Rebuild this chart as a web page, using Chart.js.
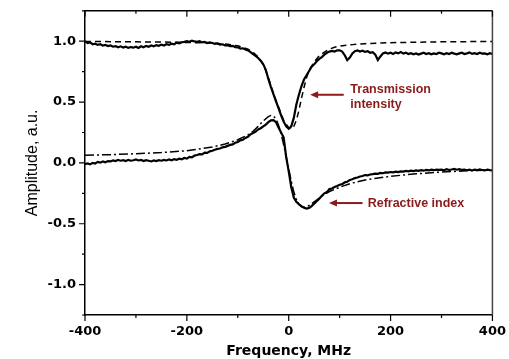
<!DOCTYPE html>
<html>
<head>
<meta charset="utf-8">
<script src="https://cdn.jsdelivr.net/npm/chart.js@4.4.1/dist/chart.umd.min.js"></script>
<style>
  html, body { margin: 0; padding: 0; background: #fff; }
</style>
</head>
<body>
<canvas id="chart" width="509" height="359"></canvas>
<script>
// measured traces, sampled every 5 MHz from -400 to 400
const measFreq = Array.from({ length: 161 }, (_, i) => -400 + 5 * i);

const transMeas = [
  1.00, 0.985, 0.99, 0.975, 0.98, 0.97, 0.975, 0.965, 0.97, 0.96,
  0.965, 0.955, 0.96, 0.95, 0.958, 0.948, 0.955, 0.945, 0.952, 0.947,
  0.955, 0.945, 0.958, 0.95, 0.962, 0.955, 0.965, 0.958, 0.968, 0.962,
  0.972, 0.965, 0.975, 0.97, 0.98, 0.975, 0.988, 0.982, 0.992, 0.995,
  1.0, 0.995, 1.005, 0.998, 0.995, 1.0, 0.99, 0.995, 0.985, 0.99,
  0.985, 0.978, 0.982, 0.972, 0.975, 0.965, 0.968, 0.96, 0.962, 0.952,
  0.95, 0.94, 0.942, 0.932, 0.925, 0.91, 0.895, 0.88, 0.862, 0.84,
  0.81, 0.765, 0.69, 0.625, 0.565, 0.505, 0.45, 0.39, 0.34, 0.30,
  0.28, 0.30, 0.37, 0.48, 0.56, 0.63, 0.685, 0.72, 0.755, 0.79,
  0.81, 0.835, 0.855, 0.87, 0.89, 0.905, 0.915, 0.92, 0.915, 0.925,
  0.925, 0.915, 0.885, 0.845, 0.865, 0.90, 0.918, 0.925, 0.915, 0.922,
  0.912, 0.918, 0.905, 0.91, 0.89, 0.845, 0.875, 0.90, 0.908, 0.898,
  0.905, 0.895, 0.908, 0.90, 0.912, 0.898, 0.905, 0.895, 0.902, 0.892,
  0.90, 0.89, 0.898, 0.905, 0.895, 0.902, 0.892, 0.90, 0.895, 0.905,
  0.90, 0.893, 0.902, 0.895, 0.905, 0.898, 0.892, 0.90, 0.905, 0.895,
  0.90, 0.908, 0.896, 0.902, 0.895, 0.905, 0.898, 0.90, 0.893, 0.902,
  0.895
];

const refrMeas = [
  -0.01, -0.005, -0.012, 0.0, -0.005, 0.008, 0.002, 0.012, 0.005, 0.015,
  0.012, 0.02, 0.015, 0.025, 0.018, 0.022, 0.015, 0.025, 0.018, 0.022,
  0.028, 0.02, 0.025, 0.015, 0.022, 0.018, 0.012, 0.02, 0.015, 0.022,
  0.018, 0.025, 0.02, 0.028, 0.022, 0.03, 0.026, 0.035, 0.03, 0.04,
  0.035, 0.05, 0.045, 0.06, 0.065, 0.072, 0.07, 0.085, 0.082, 0.095,
  0.10, 0.108, 0.115, 0.118, 0.128, 0.132, 0.14, 0.148, 0.152, 0.165,
  0.172, 0.185, 0.19, 0.205, 0.215, 0.235, 0.245, 0.258, 0.275, 0.285,
  0.30, 0.315, 0.335, 0.35, 0.352, 0.335, 0.29, 0.25, 0.21, 0.05,
  -0.07, -0.20, -0.285, -0.32, -0.34, -0.355, -0.368, -0.375, -0.37, -0.355,
  -0.335, -0.315, -0.295, -0.27, -0.25, -0.24, -0.215, -0.21, -0.198, -0.19,
  -0.18, -0.175, -0.16, -0.155, -0.14, -0.135, -0.125, -0.12, -0.112, -0.108,
  -0.10, -0.102, -0.095, -0.092, -0.088, -0.09, -0.082, -0.085, -0.078, -0.08,
  -0.075, -0.078, -0.072, -0.076, -0.07, -0.072, -0.066, -0.07, -0.064, -0.068,
  -0.062, -0.066, -0.06, -0.064, -0.058, -0.062, -0.056, -0.06, -0.055, -0.058,
  -0.055, -0.06, -0.052, -0.058, -0.054, -0.05, -0.056, -0.052, -0.058, -0.055,
  -0.06, -0.055, -0.062, -0.056, -0.06, -0.054, -0.058, -0.062, -0.056, -0.06,
  -0.062
];

// fitted curves
const transFitFreq = [-400, -300, -250, -200, -150, -120, -100, -80, -70, -60, -50, -40, -30, -20, -10,
  0, 5, 10, 15, 20, 25, 30, 35, 40, 50, 60, 70, 80, 90, 100, 125, 150, 200, 250, 300, 400];
const transFit = [0.998, 0.995, 0.993, 0.99, 0.985, 0.975, 0.962, 0.935, 0.91, 0.87, 0.81, 0.70, 0.57, 0.46, 0.35,
  0.29, 0.28, 0.30, 0.35, 0.43, 0.53, 0.62, 0.70, 0.76, 0.83, 0.88, 0.91, 0.935, 0.95, 0.96, 0.972, 0.98, 0.988, 0.992, 0.995, 0.998];

const refrFitFreq = [-400, -350, -300, -250, -200, -150, -125, -100, -80, -70, -60, -50, -40, -35, -30, -25, -20, -15, -10, -5,
  0, 5, 10, 15, 20, 25, 30, 35, 40, 50, 60, 70, 80, 100, 125, 150, 200, 250, 300, 350, 400];
const refrFit = [0.062, 0.068, 0.075, 0.085, 0.10, 0.13, 0.155, 0.19, 0.23, 0.26, 0.30, 0.345, 0.38, 0.39, 0.385, 0.36, 0.31, 0.24, 0.15, 0.05,
  -0.05, -0.15, -0.24, -0.30, -0.34, -0.36, -0.365, -0.36, -0.35, -0.32, -0.29, -0.26, -0.235, -0.20, -0.165, -0.14, -0.11, -0.09, -0.075, -0.065, -0.058];

const xMajor = [-400, -200, 0, 200, 400];
const xMinor = [-300, -100, 100, 300];
const yMajor = [-1.0, -0.5, 0.0, 0.5, 1.0];
const yMinor = [-1.25, -0.75, -0.25, 0.25, 0.75, 1.25];

// arrow labels (data coordinates)
const notes = [
  { tip: [42, 0.56], tail: [108, 0.56], text: ['Transmission', 'intensity'], at: [121, 0.603] },
  { tip: [79, -0.33], tail: [145, -0.33], text: ['Refractive index'], at: [155, -0.33] }
];

function pts(xs, ys) {
  return xs.map((x, i) => ({ x: x, y: ys[i] }));
}

const frame = {
  id: 'frame',
  afterDraw(chart) {
    const { ctx, chartArea: a, scales: { x, y } } = chart;
    ctx.save();
    ctx.strokeStyle = '#000';
    ctx.lineWidth = 1.5;
    ctx.beginPath();
    ctx.moveTo(a.left, a.top);
    ctx.lineTo(a.right, a.top);
    ctx.stroke();
    ctx.strokeStyle = '#444';
    ctx.beginPath();
    ctx.moveTo(a.right, a.top);
    ctx.lineTo(a.right, a.bottom);
    ctx.stroke();

    ctx.strokeStyle = '#000';
    ctx.lineWidth = 1.2;
    ctx.beginPath();
    xMajor.forEach(v => {
      const px = x.getPixelForValue(v);
      ctx.moveTo(px, a.bottom); ctx.lineTo(px, a.bottom + 6);
      ctx.moveTo(px, a.top); ctx.lineTo(px, a.top + 6);
    });
    xMinor.forEach(v => {
      const px = x.getPixelForValue(v);
      ctx.moveTo(px, a.bottom); ctx.lineTo(px, a.bottom + 3);
      ctx.moveTo(px, a.top); ctx.lineTo(px, a.top + 3);
    });
    yMajor.forEach(v => {
      const py = y.getPixelForValue(v);
      ctx.moveTo(a.left, py); ctx.lineTo(a.left - 6, py);
    });
    yMinor.forEach(v => {
      const py = y.getPixelForValue(v);
      ctx.moveTo(a.left, py); ctx.lineTo(a.left - 3, py);
    });
    ctx.stroke();

    // annotations
    ctx.strokeStyle = '#8b1a1a';
    ctx.fillStyle = '#8b1a1a';
    ctx.lineWidth = 2;
    ctx.font = 'bold 12.5px "Liberation Sans", Arial, sans-serif';
    ctx.textBaseline = 'middle';
    ctx.textAlign = 'left';
    notes.forEach(n => {
      const tx = x.getPixelForValue(n.tip[0]), ty = y.getPixelForValue(n.tip[1]);
      const lx = x.getPixelForValue(n.tail[0]);
      ctx.beginPath();
      ctx.moveTo(lx, ty); ctx.lineTo(tx + 6, ty);
      ctx.stroke();
      ctx.beginPath();
      ctx.moveTo(tx, ty); ctx.lineTo(tx + 8, ty - 3.5); ctx.lineTo(tx + 8, ty + 3.5);
      ctx.closePath();
      ctx.fill();
      const sx = x.getPixelForValue(n.at[0]), sy = y.getPixelForValue(n.at[1]);
      n.text.forEach((t, i) => ctx.fillText(t, sx, sy + i * 15.5));
    });
    ctx.restore();
  }
};

new Chart(document.getElementById('chart'), {
  type: 'scatter',
  data: {
    datasets: [
      { label: 'Transmission', data: pts(measFreq, transMeas), showLine: true, borderColor: '#000', borderWidth: 2.2 },
      { label: 'Refractive index', data: pts(measFreq, refrMeas), showLine: true, borderColor: '#000', borderWidth: 2.2 },
      { label: 'Transmission fit', data: pts(transFitFreq, transFit), showLine: true, borderColor: '#000', borderWidth: 1.5, borderDash: [6, 4] },
      { label: 'Refractive fit', data: pts(refrFitFreq, refrFit), showLine: true, borderColor: '#000', borderWidth: 1.5, borderDash: [9, 3, 2, 3] }
    ]
  },
  options: {
    responsive: false,
    animation: false,
    devicePixelRatio: 1,
    layout: { padding: { top: 8, right: 13, left: 0, bottom: 0 } },
    elements: { point: { radius: 0 }, line: { tension: 0 } },
    plugins: { legend: { display: false }, tooltip: { enabled: false } },
    scales: {
      x: {
        type: 'linear',
        min: -400,
        max: 400,
        afterBuildTicks: s => { s.ticks = xMajor.map(v => ({ value: v })); },
        afterFit: s => { s.height = 44; },
        grid: { display: true, drawOnChartArea: false, drawTicks: true, tickLength: 6, color: 'rgba(0,0,0,0)' },
        border: { display: true, color: '#000', width: 1.5 },
        ticks: {
          padding: 3, color: '#000', maxRotation: 0, autoSkip: false,
          font: { family: 'DejaVu Sans', weight: 'bold', size: 13 },
          callback: v => String(v)
        },
        title: {
          display: true, text: 'Frequency, MHz', color: '#000',
          font: { family: 'DejaVu Sans', weight: 'bold', size: 14, lineHeight: 1 },
          padding: { top: 0, bottom: 1 }
        }
      },
      y: {
        type: 'linear',
        min: -1.25,
        max: 1.25,
        afterBuildTicks: s => { s.ticks = yMajor.map(v => ({ value: v })); },
        afterFit: s => { s.width = 85; },
        grid: { display: true, drawOnChartArea: false, drawTicks: true, tickLength: 6, color: 'rgba(0,0,0,0)' },
        border: { display: true, color: '#000', width: 1.5 },
        ticks: {
          padding: 3, color: '#000', autoSkip: false,
          font: { family: 'DejaVu Sans', weight: 'bold', size: 13 },
          callback: v => v.toFixed(1)
        },
        title: {
          display: true, text: 'Amplitude, a.u.', color: '#000',
          font: { family: 'Liberation Sans', size: 16, lineHeight: 1.2 },
          padding: { top: 23, bottom: 0 }
        }
      }
    }
  },
  plugins: [frame]
});
</script>
</body>
</html>
